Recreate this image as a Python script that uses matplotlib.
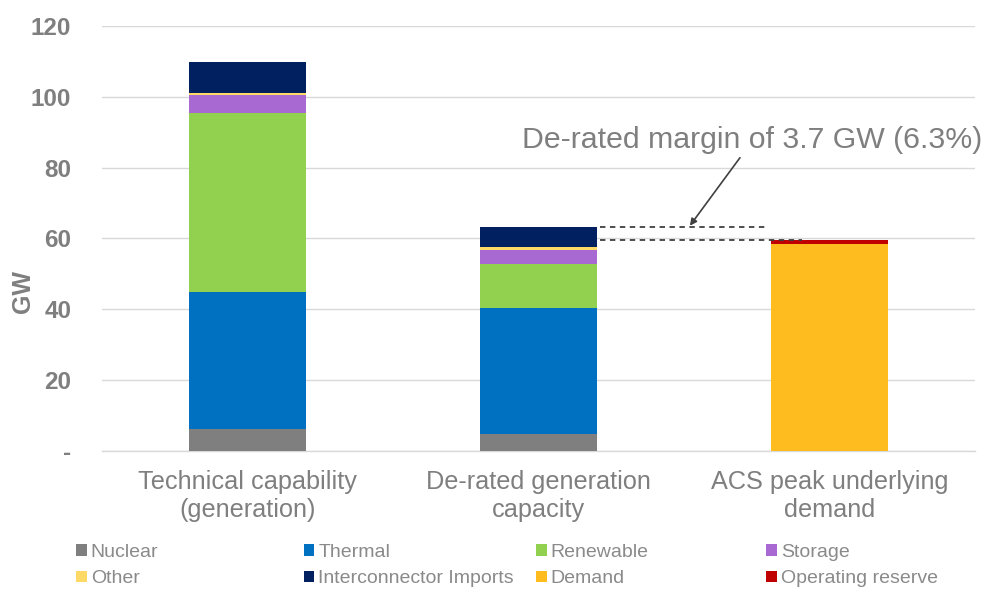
import matplotlib
matplotlib.use("Agg")
import matplotlib.pyplot as plt
from matplotlib.patches import Patch
import numpy as np

plt.rcParams['font.family'] = ['Liberation Sans', 'DejaVu Sans']

categories = ["Technical capability\n(generation)",
              "De-rated generation\ncapacity",
              "ACS peak underlying\ndemand"]

series_names = ["Nuclear", "Thermal", "Renewable", "Storage", "Other",
                "Interconnector Imports", "Demand", "Operating reserve"]
series_colors = ["#7f7f7f", "#0070c0", "#92d050", "#a86ad2", "#ffd966",
                 "#002060", "#ffbc1f", "#c00000"]

nuclear = [6.2, 4.7, 0.0]
thermal = [38.8, 35.6, 0.0]
renewable = [50.3, 12.5, 0.0]
storage = [5.3, 4.0, 0.0]
other = [0.6, 0.8, 0.0]
interconnector = [8.6, 5.7, 0.0]
demand = [0.0, 0.0, 58.5]
operating_reserve = [0.0, 0.0, 1.1]

yticks = [0, 20, 40, 60, 80, 100, 120]
ytick_labels = ["-", "20", "40", "60", "80", "100", "120"]
margin_text = "De-rated margin of 3.7 GW (6.3%)"

series_values = [nuclear, thermal, renewable, storage, other,
                 interconnector, demand, operating_reserve]

text_gray = "#7f7f7f"
grid_gray = "#d9d9d9"

fig = plt.figure(figsize=(9.89, 5.91), dpi=100)
ax = fig.add_axes([0.103, 0.237, 0.883, 0.719])

x = np.arange(len(categories))
width = 0.40
bottom = np.zeros(len(categories))
for vals, col in zip(series_values, series_colors):
    v = np.array(vals)
    ax.bar(x, v, width, bottom=bottom, color=col, zorder=3, linewidth=0)
    bottom += v

ax.set_xlim(-0.5, 2.5)
ax.set_ylim(0, 120)
ax.set_yticks(yticks)
ax.set_yticklabels(ytick_labels, fontsize=17.5, fontweight="bold", color=text_gray)
ax.set_xticks(x)
ax.set_xticklabels(categories, fontsize=18.2, color=text_gray, linespacing=1.2)
ax.tick_params(axis="y", length=0, pad=22)
ax.tick_params(axis="x", length=0, pad=14)
ax.grid(axis="y", color=grid_gray, linewidth=1, zorder=0)
for s in ["top", "right", "left"]:
    ax.spines[s].set_visible(False)
ax.spines["bottom"].set_color(grid_gray)
ax.spines["bottom"].set_linewidth(1)

ax.set_ylabel("GW", fontsize=18, fontweight="bold", color=text_gray)
ax.yaxis.set_label_coords(-0.076, 0.376)

# Margin between de-rated capacity and peak demand plus reserve
derated_total = sum(s[1] for s in series_values)
demand_total = demand[2] + operating_reserve[2]
ax.plot([1 + width / 2 + 0.01, 2 - width / 2 - 0.01], [derated_total, derated_total],
        linestyle=(0, (3, 2.5)), color="#404040", linewidth=1.3, zorder=4)
ax.plot([1 + width / 2 + 0.01, 1.905], [demand_total, demand_total],
        linestyle=(0, (3, 2.5)), color="#404040", linewidth=1.3, zorder=4)

ax.annotate("", xy=(1.52, derated_total + 0.3), xytext=(1.692, 82.8),
            arrowprops=dict(arrowstyle="-|>", color="#404040", lw=1.2,
                            mutation_scale=10, shrinkA=0, shrinkB=0),
            zorder=5)
ax.text(0.943, 85.6, margin_text, fontsize=21.8, color=text_gray,
        ha="left", va="baseline", zorder=5)

# Legend laid out as four columns of two entries, row by row
handles = [Patch(facecolor=c, edgecolor="none") for c in series_colors]
col_x = [0.077, 0.307, 0.542, 0.775]
for i, cx in enumerate(col_x):
    idx = [i, i + 4]
    fig.legend([handles[j] for j in idx], [series_names[j] for j in idx],
               loc="upper left", bbox_to_anchor=(cx, 0.080),
               bbox_transform=fig.transFigure, frameon=False,
               fontsize=14, labelcolor="#8a8a8a", handlelength=0.55,
               handleheight=0.55, handletextpad=0.2, labelspacing=0.5,
               borderaxespad=0, borderpad=0)

fig.savefig("out.png", dpi=100)
